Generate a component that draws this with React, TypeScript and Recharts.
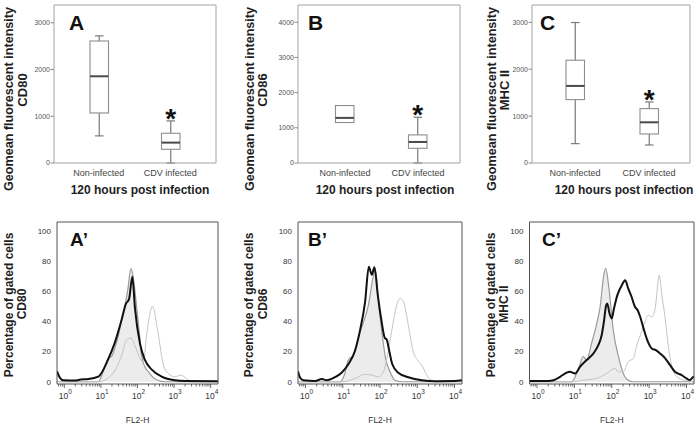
import { Area, Bar, ComposedChart, LabelList, Line, XAxis, YAxis } from "recharts"

const SANS = 'Arial, "Liberation Sans", Helvetica, sans-serif'
const BOX_FRAME = "#a3a3a3"
const HIST_FRAME = "#555555"

// ---- box plots (geomean fluorescent intensity, 120 h p.i.)
const groups = ["Non-infected", "CDV infected"]
const significance = ["", "*"]

const cd80Low = [580, 0]
const cd80Q1 = [1070, 293]
const cd80Median = [1855, 436]
const cd80Q3 = [2610, 636]
const cd80High = [2720, 900]

const cd86Low = [1150, 0]
const cd86Q1 = [1150, 418]
const cd86Median = [1282, 598]
const cd86Q3 = [1633, 798]
const cd86High = [1633, 1300]

const mhcLow = [413, 384]
const mhcQ1 = [1352, 619]
const mhcMedian = [1644, 868]
const mhcQ3 = [2192, 1160]
const mhcHigh = [2996, 1302]

const ticks3000 = [0, 1000, 2000, 3000]
const ticks4000 = [0, 1000, 2000, 3000, 4000]

// ---- histograms: [log10 FL2-H, % of gated cells]
const cd80Isotype = [
  [-0.2, 0], [0.93, 0], [1.05, 6], [1.2, 15.5], [1.3, 17], [1.4, 24], [1.48, 31], [1.57, 42],
  [1.66, 51], [1.74, 62], [1.82, 75], [1.88, 70], [1.98, 48.7], [2.06, 30], [2.11, 17.7],
  [2.2, 10], [2.3, 6.6], [2.48, 1.8], [2.75, 0], [4.2, 0],
]
const cd80Cdv = [
  [-0.2, 7], [-0.15, 4], [-0.03, 1], [0.3, 0.8], [0.45, 1.5], [0.66, 1.8], [0.93, 3.4],
  [1.2, 15], [1.38, 26], [1.57, 41.5], [1.68, 51.5], [1.77, 55], [1.86, 69.7], [1.93, 49],
  [2.07, 25], [2.2, 14.6], [2.39, 8], [2.66, 3.4], [3.02, 1], [3.3, 0.5], [4.2, 0.3],
]
const cd80NonInfected = [
  [-0.2, 0], [0.93, 0], [1.29, 4.4], [1.57, 17.7], [1.7, 27.6], [1.82, 29], [1.93, 24],
  [2.07, 15.5], [2.16, 13], [2.25, 31], [2.41, 50], [2.57, 31], [2.71, 11], [2.84, 5.5],
  [3.02, 3.3], [3.19, 4.4], [3.34, 2], [3.48, 0], [4.2, 0],
]

const cd86Isotype = [
  [-0.2, 0], [0.93, 0], [1.05, 5], [1.15, 14.4], [1.28, 17.7], [1.46, 33], [1.55, 39],
  [1.69, 51], [1.79, 66], [1.87, 75], [1.96, 53], [2.06, 31], [2.15, 15.5], [2.27, 6.6],
  [2.4, 1], [2.58, 0], [4.2, 0],
]
const cd86Cdv = [
  [-0.2, 7], [-0.15, 3], [-0.06, 1], [0.26, 0.5], [0.44, 1.8], [0.57, 1], [0.79, 3],
  [0.97, 6], [1.15, 11.6], [1.33, 20.6], [1.46, 33.6], [1.6, 53], [1.7, 76.3], [1.78, 71],
  [1.85, 76], [1.94, 57.7], [2.03, 42], [2.13, 29], [2.18, 28], [2.24, 21.4], [2.33, 11.6],
  [2.49, 6], [2.76, 3], [3.12, 1], [3.5, 0.4], [4.0, 0.5], [4.2, 1],
]
const cd86NonInfected = [
  [-0.2, 0], [1.0, 0], [1.33, 2.2], [1.6, 4.9], [1.78, 4.4], [1.96, 3.3], [2.09, 6.6],
  [2.22, 20], [2.34, 37.6], [2.45, 51], [2.54, 55.4], [2.63, 53], [2.76, 37.6], [2.89, 20],
  [3.03, 13.7], [3.16, 9.3], [3.25, 4.4], [3.39, 1], [3.48, 0], [4.2, 0],
]

const mhcIsotype = [
  [-0.2, 0], [0.93, 0], [1.1, 8], [1.24, 16.6], [1.33, 14.4], [1.46, 25.5], [1.6, 38.8],
  [1.69, 49.8], [1.78, 69.7], [1.84, 75.2], [1.93, 60.8], [2.04, 34.3], [2.18, 16.6],
  [2.31, 5.5], [2.44, 1], [2.58, 0], [4.2, 0],
]
const mhcCdv = [
  [-0.2, 0.5], [0.3, 0.5], [0.44, 1], [0.62, 3.3], [0.79, 6], [0.88, 6.6], [1.02, 5.5],
  [1.15, 9.9], [1.33, 14.4], [1.51, 18.8], [1.64, 24.3], [1.73, 30.9], [1.79, 39.8],
  [1.85, 50.8], [1.88, 52], [1.94, 45.3], [2.0, 42], [2.06, 48.6], [2.15, 57.5], [2.27, 64.1],
  [2.36, 67.4], [2.44, 61.9], [2.53, 56.4], [2.62, 49.8], [2.69, 47.6], [2.76, 43.1],
  [2.85, 35.4], [2.95, 27.6], [3.07, 22.1], [3.18, 21], [3.29, 18.8], [3.43, 15.5],
  [3.56, 11], [3.69, 6.6], [3.87, 4.4], [4.0, 2.2], [4.09, 1.1], [4.18, 3.3], [4.2, 3.5],
]
const mhcNonInfected = [
  [-0.2, 0], [1.0, 0], [1.24, 1], [1.6, 2.2], [1.86, 5.5], [2.09, 8.8], [2.18, 6.6],
  [2.31, 6.6], [2.44, 13.3], [2.58, 15.5], [2.67, 24.3], [2.8, 33.2], [2.89, 39.8],
  [2.98, 44.2], [3.07, 43.1], [3.16, 48.6], [3.25, 68.6], [3.27, 70.8], [3.34, 57.5],
  [3.43, 42], [3.51, 24.3], [3.6, 11], [3.74, 3.3], [3.92, 1.1], [4.09, 0.5], [4.2, 0],
]

const percentTicks = [0, 20, 40, 60, 80, 100]
const decades = [0, 1, 2, 3, 4]
const logTicks = [
  ...[0.7, 0.8, 0.9].map(Math.log10),
  ...decades.flatMap((d) => (d === 4 ? [4] : [d, ...[2, 3, 4, 5, 6, 7, 8, 9].map((m) => d + Math.log10(m))])),
]

function boxRows(low, q1, median, q3, high) {
  return groups.map((group, i) => ({
    group,
    range: [low[i], high[i]],
    low: low[i],
    q1: q1[i],
    median: median[i],
    q3: q3[i],
    high: high[i],
    sig: significance[i],
  }))
}

const toRows = (pts) => pts.map(([decade, pct]) => ({ decade, pct }))

function BoxShape(props: any) {
  const { x, y, width, height, payload } = props
  if (!payload || !isFinite(height)) return null
  const { low, q1, median, q3, high } = payload
  const span = high - low || 1
  const py = (v: number) => y + (height * (high - v)) / span
  const cx = x + width / 2
  const cap = 4.3
  return (
    <g>
      {high > q3 && (
        <>
          <line x1={cx} x2={cx} y1={py(high)} y2={py(q3)} stroke="#7a7a7a" strokeWidth={1.2} />
          <line x1={cx - cap} x2={cx + cap} y1={py(high)} y2={py(high)} stroke="#7a7a7a" strokeWidth={1.2} />
        </>
      )}
      {low < q1 && (
        <>
          <line x1={cx} x2={cx} y1={py(q1)} y2={py(low)} stroke="#7a7a7a" strokeWidth={1.2} />
          <line x1={cx - cap} x2={cx + cap} y1={py(low)} y2={py(low)} stroke="#7a7a7a" strokeWidth={1.2} />
        </>
      )}
      <rect x={x} y={py(q3)} width={width} height={py(q1) - py(q3)} fill="#ffffff" stroke="#8e8e8e" strokeWidth={1.1} />
      <line x1={x} x2={x + width} y1={py(median)} y2={py(median)} stroke="#4a4a4a" strokeWidth={2} />
    </g>
  )
}

function Star(props: any) {
  const { x, y, width, value } = props
  if (!value) return null
  return (
    <text x={x + width / 2} y={y + 7} textAnchor="middle" fontSize={28} fontWeight="bold" fontFamily={SANS} fill="#111">
      {value}
    </text>
  )
}

function GroupTick(props: any) {
  const { x, y, payload } = props
  return (
    <text x={x} y={y + 12.5} textAnchor="middle" fontSize={9} fontFamily={SANS} fill="#444">
      {payload.value}
    </text>
  )
}

function LogTick(props: any) {
  const { x, y, payload } = props
  const v = payload.value
  const major = Math.abs(v - Math.round(v)) < 1e-6
  return (
    <g>
      <line x1={x} x2={x} y1={y} y2={y + (major ? 4 : 2.5)} stroke="#444" strokeWidth={0.8} />
      {major && (
        <text x={x - 5.5} y={y + 14.5} fontSize={8.5} fontFamily={SANS} fill="#333">
          10
          <tspan dy={-4.5} fontSize={6.5}>
            {Math.round(v)}
          </tspan>
        </text>
      )}
    </g>
  )
}

function VerticalTitle({ lines, xs, cys, sizes, ox, oy }) {
  return (
    <g>
      {lines.map((line, i) => {
        const bx = xs[i] - ox + sizes[i] * 0.35
        const cy = cys[i] - oy
        return (
          <text
            key={line}
            x={bx}
            y={cy}
            transform={`rotate(-90, ${bx}, ${cy})`}
            textAnchor="middle"
            fontSize={sizes[i]}
            fontWeight="bold"
            fontFamily={SANS}
            fill="#1e1e1e"
          >
            {line}
          </text>
        )
      })}
    </g>
  )
}

// top / right axes are only there to close the frame; they need a 1px box or they are not drawn
function BoxPanel({ f, rows, max, ticks, pad, titleXs, metric, letter, letterX, xTitleX }) {
  const margin = { top: f.t - f.y - 1, right: f.x + f.w - f.r - 1, left: 0, bottom: 0 }
  return (
    <div style={{ position: "absolute", left: f.x, top: f.y }}>
      <ComposedChart width={f.w} height={f.h} data={rows} margin={margin}>
        <XAxis
          dataKey="group"
          height={f.y + f.h - f.b}
          padding={pad}
          interval={0}
          tickSize={0}
          tickMargin={0}
          tickLine={false}
          axisLine={{ stroke: BOX_FRAME }}
          tick={<GroupTick />}
          label={() => (
            <text x={xTitleX - f.x} y={193.5 - f.y} textAnchor="middle" fontSize={12} fontWeight="bold" fontFamily={SANS} fill="#1e1e1e">
              120 hours post infection
            </text>
          )}
        />
        <XAxis xAxisId="top" orientation="top" dataKey="group" height={1} padding={pad} tick={false} tickLine={false} axisLine={{ stroke: BOX_FRAME }} />
        <YAxis
          type="number"
          domain={[0, max]}
          ticks={ticks}
          interval={0}
          width={f.l - f.x}
          tickSize={3.5}
          tickMargin={0.5}
          tickLine={{ stroke: "#8a8a8a" }}
          axisLine={{ stroke: BOX_FRAME }}
          tick={{ fontSize: 7, fill: "#555", fontFamily: SANS }}
          label={() => (
            <g>
              <VerticalTitle lines={["Geomean fluorescent intensity", metric]} xs={titleXs} cys={[99, 90]} sizes={[12.6, 13]} ox={f.x} oy={f.y} />
              <text x={letterX - f.x} y={30 - f.y} fontSize={21} fontWeight="bold" fontFamily={SANS} fill="#111">
                {letter}
              </text>
            </g>
          )}
        />
        <YAxis yAxisId="right" orientation="right" type="number" domain={[0, max]} width={1} tick={false} tickLine={false} axisLine={{ stroke: BOX_FRAME }} />
        <Bar dataKey="range" barSize={18.5} shape={<BoxShape />} isAnimationActive={false}>
          <LabelList dataKey="sig" content={<Star />} />
        </Bar>
        <Line xAxisId="top" yAxisId="right" dataKey="median" stroke="none" dot={false} activeDot={false} legendType="none" isAnimationActive={false} />
      </ComposedChart>
    </div>
  )
}

function HistPanel({ f, isotype, cdv, nonInfected, titleXs, metric, letter, letterX }) {
  const margin = { top: f.t - f.y - 1, right: f.x + f.w - f.r - 1, left: 0, bottom: 0 }
  return (
    <div style={{ position: "absolute", left: f.x, top: f.y }}>
      <ComposedChart width={f.w} height={f.h} margin={margin}>
        <XAxis
          type="number"
          dataKey="decade"
          domain={[-0.2, 4.2]}
          allowDataOverflow
          ticks={logTicks}
          interval={0}
          tickSize={0}
          tickMargin={0}
          tickLine={false}
          height={f.y + f.h - f.b}
          axisLine={{ stroke: HIST_FRAME }}
          tick={<LogTick />}
          label={() => (
            <text x={(f.l + f.r) / 2 - f.x} y={423 - f.y} textAnchor="middle" fontSize={8.5} fontFamily={SANS} fill="#333">
              FL2-H
            </text>
          )}
        />
        <XAxis xAxisId="top" orientation="top" type="number" dataKey="decade" domain={[-0.2, 4.2]} allowDataOverflow height={1} tick={false} tickLine={false} axisLine={{ stroke: HIST_FRAME }} />
        <YAxis
          type="number"
          domain={[-1.5, 106]}
          allowDataOverflow
          ticks={percentTicks}
          interval={0}
          width={f.l - f.x}
          tickSize={0}
          tickMargin={6}
          tickLine={false}
          axisLine={{ stroke: HIST_FRAME }}
          tick={{ fontSize: 8, fill: "#333", fontFamily: SANS }}
          label={() => (
            <g>
              <VerticalTitle lines={["Percentage of gated cells", metric]} xs={titleXs} cys={[305, 304]} sizes={[12, 12]} ox={f.x} oy={f.y} />
              <text x={letterX - f.x} y={246 - f.y} fontSize={19} fontWeight="bold" fontFamily={SANS} fill="#111">
                {letter}
              </text>
            </g>
          )}
        />
        <YAxis yAxisId="right" orientation="right" type="number" domain={[-1.5, 106]} allowDataOverflow width={1} tick={false} tickLine={false} axisLine={{ stroke: HIST_FRAME }} />
        <Area
          data={toRows(isotype)}
          dataKey="pct"
          type="monotone"
          baseValue={0}
          fill="#ececec"
          fillOpacity={1}
          stroke="#9a9a9a"
          strokeWidth={1.2}
          dot={false}
          activeDot={false}
          isAnimationActive={false}
        />
        <Line data={toRows(nonInfected)} dataKey="pct" type="monotone" stroke="#c4c4c4" strokeWidth={1} dot={false} activeDot={false} isAnimationActive={false} />
        <Line data={toRows(cdv)} dataKey="pct" type="monotone" stroke="#111" strokeWidth={2} dot={false} activeDot={false} isAnimationActive={false} />
        <Line data={toRows(cdv)} xAxisId="top" yAxisId="right" dataKey="pct" stroke="none" dot={false} activeDot={false} legendType="none" isAnimationActive={false} />
      </ComposedChart>
    </div>
  )
}

export default function App() {
  return (
    <div style={{ position: "absolute", left: 0, top: 0, width: 699, height: 428, background: "#fff", overflow: "hidden", fontFamily: SANS }}>
      <BoxPanel
        f={{ x: 0, y: 0, w: 235, h: 200, l: 54, r: 216, t: 5, b: 163 }}
        rows={boxRows(cd80Low, cd80Q1, cd80Median, cd80Q3, cd80High)}
        max={3380}
        ticks={ticks3000}
        pad={{ left: 9, right: 10 }}
        titleXs={[9, 22]}
        metric="CD80"
        letter="A"
        letterX={69}
        xTitleX={140}
      />
      <BoxPanel
        f={{ x: 235, y: 0, w: 235, h: 200, l: 298, r: 460, t: 5, b: 163 }}
        rows={boxRows(cd86Low, cd86Q1, cd86Median, cd86Q3, cd86High)}
        max={4490}
        ticks={ticks4000}
        pad={{ left: 10.5, right: 5.5 }}
        titleXs={[249.7, 262.7]}
        metric="CD86"
        letter="B"
        letterX={308}
        xTitleX={385}
      />
      <BoxPanel
        f={{ x: 470, y: 0, w: 229, h: 200, l: 532, r: 690, t: 5, b: 163 }}
        rows={boxRows(mhcLow, mhcQ1, mhcMedian, mhcQ3, mhcHigh)}
        max={3370}
        ticks={ticks3000}
        pad={{ left: 6, right: 4 }}
        titleXs={[491.3, 504.3]}
        metric="MHC II"
        letter="C"
        letterX={540}
        xTitleX={624}
      />
      <HistPanel
        f={{ x: 0, y: 210, w: 230, h: 218, l: 57, r: 218, t: 222, b: 384 }}
        isotype={cd80Isotype}
        cdv={cd80Cdv}
        nonInfected={cd80NonInfected}
        titleXs={[9, 21.5]}
        metric="CD80"
        letter="A’"
        letterX={70}
      />
      <HistPanel
        f={{ x: 230, y: 210, w: 235, h: 218, l: 298, r: 462, t: 222, b: 384 }}
        isotype={cd86Isotype}
        cdv={cd86Cdv}
        nonInfected={cd86NonInfected}
        titleXs={[249, 262.5]}
        metric="CD86"
        letter="B’"
        letterX={308}
      />
      <HistPanel
        f={{ x: 465, y: 210, w: 234, h: 218, l: 529.5, r: 694, t: 222, b: 384 }}
        isotype={mhcIsotype}
        cdv={mhcCdv}
        nonInfected={mhcNonInfected}
        titleXs={[490.7, 504]}
        metric="MHC II"
        letter="C’"
        letterX={542}
      />
    </div>
  )
}
